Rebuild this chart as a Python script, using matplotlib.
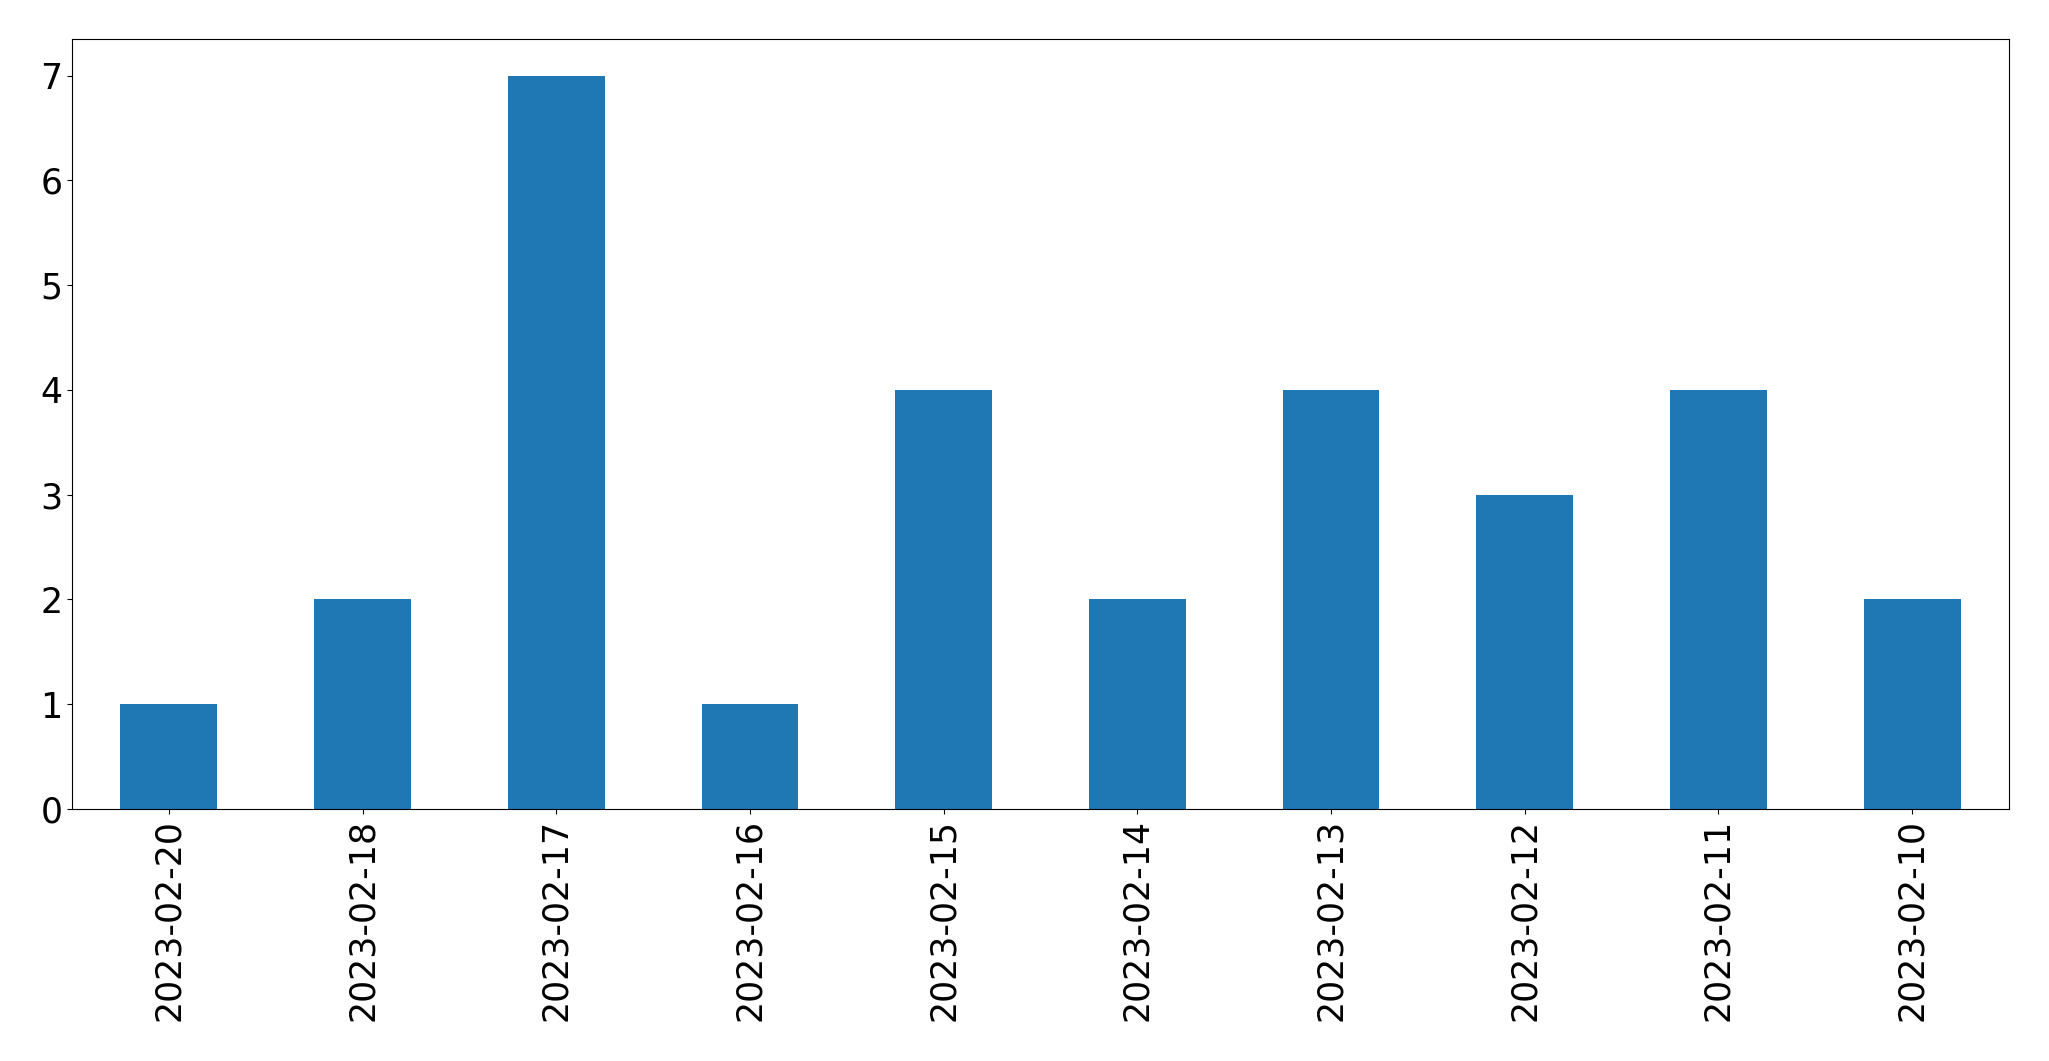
import pandas as pd
import matplotlib
matplotlib.use('Agg')
import matplotlib.pyplot as plt

dates = ['2023-02-20', '2023-02-18', '2023-02-17', '2023-02-16', '2023-02-15',
         '2023-02-14', '2023-02-13', '2023-02-12', '2023-02-11', '2023-02-10']
counts = [1, 2, 7, 1, 4, 2, 4, 3, 4, 2]

s = pd.Series(counts, index=dates)

fig, ax = plt.subplots(figsize=(20.49, 10.61), dpi=100)
s.plot(kind='bar', ax=ax, fontsize=25)
fig.subplots_adjust(left=72 / 2049, right=2009 / 2049, top=1 - 39 / 1061, bottom=1 - 809 / 1061)

fig.savefig('out.png', dpi=100)
